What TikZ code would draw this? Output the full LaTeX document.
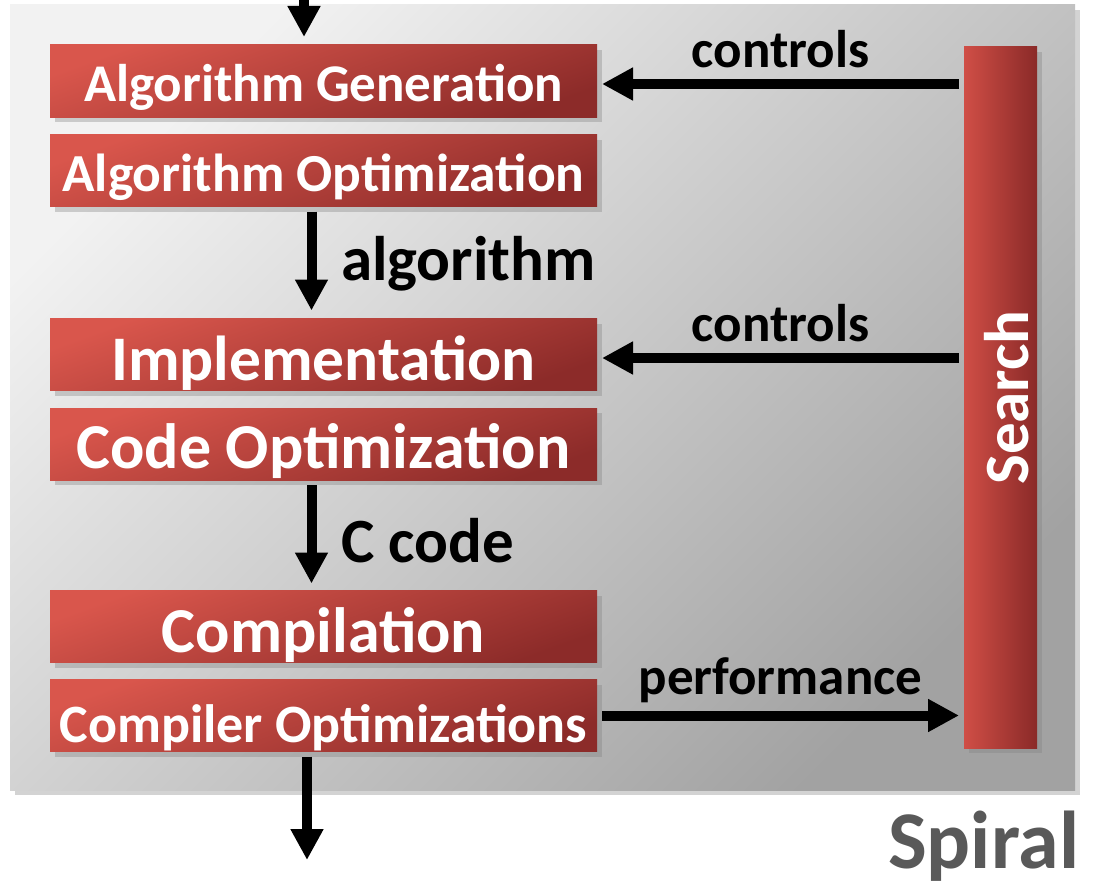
\documentclass[tikz,border=0pt]{standalone}
\usepackage{fontspec}
\setmainfont{Carlito}
\usetikzlibrary{arrows.meta,shadows}

\definecolor{panelhi}{HTML}{F2F2F2}
\definecolor{panello}{HTML}{A2A2A2}
\definecolor{boxhi}{HTML}{D9564C}
\definecolor{boxlo}{HTML}{8C2B29}
\definecolor{barhi}{HTML}{D04E46}
\definecolor{barlo}{HTML}{8A2A28}
\definecolor{brandgray}{HTML}{595959}

\begin{document}
\begin{tikzpicture}[x=1pt, y=-1pt, line width=10pt,
  stage/.style={top color=boxhi, bottom color=boxlo, shading angle=20,
    minimum width=547pt, minimum height=72pt, inner sep=0pt, text=white, text depth=0pt,
    drop shadow={shadow xshift=5pt, shadow yshift=-5pt, opacity=0.35}},
  flow/.style={-{Triangle[length=31pt,width=31pt]}, line width=10pt},
  tag/.style={inner sep=0pt, font=\bfseries\fontsize{53}{60}\selectfont}]

  %% ════ 背景面板 ════
  \shade[top color=panelhi, bottom color=panello, shading angle=45,
    drop shadow={shadow xshift=5pt, shadow yshift=-5pt, opacity=0.35}]
    (10,5) rectangle (1075,790);

  %% ════ 左列阶段框 ════
  \node[stage, text height=41.5pt, font=\bfseries\fontsize{53}{60}\selectfont]   (gen)  at (323.5,81)    {Algorithm Generation};
  \node[stage, text height=42.5pt, font=\bfseries\fontsize{53.5}{60}\selectfont] (aopt) at (323.5,170.5) {Algorithm Optimization};
  \node[stage, text height=51pt, font=\bfseries\fontsize{63.5}{70}\selectfont]   (impl) at (323.5,354.5) {Implementation};
  \node[stage, text height=49pt, font=\bfseries\fontsize{64}{70}\selectfont]     (copt) at (323.5,444)   {Code Optimization};
  \node[stage, text height=52pt, font=\bfseries\fontsize{64}{70}\selectfont]     (comp) at (323.5,626.5) {Compilation};
  \node[stage, text height=53pt, font=\bfseries\fontsize{54}{60}\selectfont]     (cc)   at (323.5,715.5) {Compiler Optimizations};

  %% ════ 右侧搜索条 ════
  \node[left color=barhi, right color=barlo, minimum width=73pt, minimum height=701pt,
    inner sep=0pt, drop shadow={shadow xshift=5pt, shadow yshift=-5pt, opacity=0.35}]
    (search) at (1000.5,397.5) {};
  \node[rotate=90, inner sep=0pt, text=white, font=\bfseries\fontsize{63}{70}\selectfont]
    (searchtxt) at ([xshift=6pt]search.center) {Search};

  %% ════ 端点 ════
  \coordinate (entry) at (304,0);
  \coordinate (exit)  at (307,860);

  %% ════ 纵向箭头 ════
  \draw[flow] (entry) -- ([yshift=3pt]entry |- gen.north);
  \draw[flow] ([xshift=-12pt]aopt.south) -- ([xshift=-12pt,yshift=3pt]impl.north);
  \draw[flow] ([xshift=-12pt]copt.south) -- ([xshift=-12pt,yshift=2pt]comp.north);
  \draw[flow] (exit |- cc.south) -- (exit);

  %% ════ 横向箭头 ════
  \draw[flow] ([yshift=-3pt]search.west |- gen.east) -- ([yshift=-3pt]gen.east)
    node[tag, midway, above=11pt] (ctl1) {controls};
  \draw[flow] ([yshift=-3.5pt]search.west |- impl.east) -- ([yshift=-3.5pt]impl.east)
    node[tag, midway, above=11pt] (ctl2) {controls};
  \draw[flow] (cc.east) -- (search.west |- cc.east)
    node[tag, midway, above=8pt] (perf) {performance};

  %% ════ 标签 ════
  \node[tag, anchor=base west, font=\bfseries\fontsize{63}{70}\selectfont] (algo)  at (336,280) {algorithm};
  \node[tag, anchor=base west, font=\bfseries\fontsize{63}{70}\selectfont] (ccode) at (336,562) {C code};
  \node[tag, anchor=base east, text=brandgray, font=\bfseries\fontsize{82}{90}\selectfont] (brand) at (1084,868) {Spiral};

  % 钉死画布
  \pgfresetboundingbox
  \path[use as bounding box] (0,0) rectangle (1095,891);
\end{tikzpicture}
\end{document}
